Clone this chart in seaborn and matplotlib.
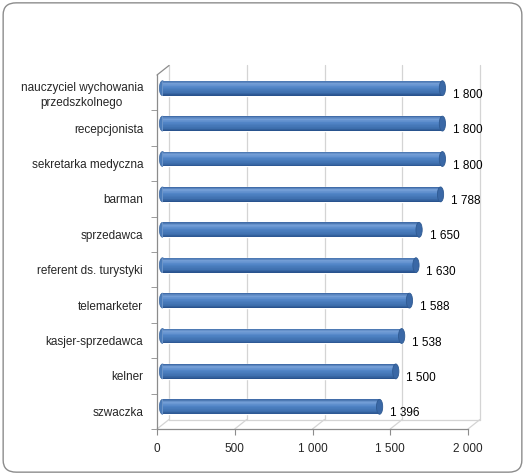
import numpy as np
import pandas as pd
import seaborn as sns
import matplotlib.pyplot as plt
from matplotlib.colors import LinearSegmentedColormap
from matplotlib.patches import Ellipse, FancyBboxPatch
from matplotlib.transforms import ScaledTranslation

# data
jobs = ['nauczyciel wychowania\nprzedszkolnego', 'recepcjonista', 'sekretarka medyczna',
        'barman', 'sprzedawca', 'referent ds. turystyki', 'telemarketer',
        'kasjer-sprzedawca', 'kelner', 'szwaczka']
salary = [1800, 1800, 1800, 1788, 1650, 1630, 1588, 1538, 1500, 1396]
xticks = [0, 500, 1000, 1500, 2000]


def fmt(v):
    return f'{v:,}'.replace(',', ' ')


sns.set_style('white')
plt.rcParams['font.family'] = ['Liberation Sans', 'DejaVu Sans']

fig = plt.figure(figsize=(5.25, 4.75), dpi=100)
fig.patches.append(FancyBboxPatch((0.006, 0.006), 0.988, 0.988,
                                  boxstyle='round,pad=0,rounding_size=0.025',
                                  transform=fig.transFigure, fill=False,
                                  edgecolor='#8c8c8c', linewidth=1.0))
ax = fig.add_axes([157 / 525, 46 / 475, 311 / 525, 354 / 475])

bar_h = 0.42
df = pd.DataFrame({'job': jobs, 'salary': salary})
sns.barplot(data=df, x='salary', y='job', orient='h', width=bar_h,
            color='#4A7DC0', ax=ax, zorder=3)

# depth offsets (back wall and middle of the bars)
back = ScaledTranslation(0.12, 0.095, fig.dpi_scale_trans)
mid = ScaledTranslation(0.055, 0.045, fig.dpi_scale_trans)

ax.set_xlim(0, 2000)
ax.set_ylim(9.5, -0.5)

# back wall / floor lines
grid_c = '#d4d4d4'
for t in xticks:
    ax.plot([t, t], [9.5, -0.5], color=grid_c, lw=0.9,
            transform=ax.transData + back, clip_on=False, zorder=1)
ax.plot([0, 2000], [9.5, 9.5], color=grid_c, lw=0.9,
        transform=ax.transData + back, clip_on=False, zorder=1)
for t in xticks:
    x0, y0 = ax.transData.transform((t, 9.5))
    x1, y1 = (ax.transData + back).transform((t, 9.5))
    ax.plot([x0, x1], [y0, y1], color=grid_c, lw=0.9, transform=None,
            clip_on=False, zorder=1)
x0, y0 = ax.transData.transform((0, -0.5))
x1, y1 = (ax.transData + back).transform((0, -0.5))
ax.plot([x0, x1], [y0, y1], color='#8c8c8c', lw=0.9, transform=None,
        clip_on=False, zorder=1)

# cylinder look: shift bars to mid depth, shade with thin strips
cyl = LinearSegmentedColormap.from_list(
    'cyl', [(0, '#3c68a4'), (0.2, '#76a0d8'), (0.45, '#5084c6'),
            (0.8, '#3e6fae'), (1, '#27508a')])
for p in ax.patches:
    p.set_transform(ax.transData + mid)

pos = np.arange(len(jobs))
cap_w = 40
n_strips = 24
for i, v in zip(pos, salary):
    ax.add_patch(Ellipse((0, i), cap_w, bar_h, transform=ax.transData + mid,
                         facecolor='#4a7cbb', edgecolor='#3a66a0', lw=0.5, zorder=2.9))
for k in range(n_strips):
    sh = bar_h / n_strips
    yk = pos - bar_h / 2 + (k + 0.5) * sh
    bars = ax.barh(yk, salary, height=sh * 1.05, color=cyl((k + 0.5) / n_strips),
                   linewidth=0, zorder=3.1)
    for b in bars:
        b.set_transform(ax.transData + mid)
for i, v in zip(pos, salary):
    ax.add_patch(Ellipse((v, i), cap_w, bar_h, transform=ax.transData + mid,
                         facecolor='#3a68a6', edgecolor='#2f5a92', lw=0.6, zorder=4))

for i, v in zip(pos, salary):
    ax.annotate(fmt(v), (v, i), xytext=(11.5, -1.5), textcoords='offset points',
                ha='left', va='center', fontsize=8.5, color='black')

ax.set_xlim(0, 2000)
ax.set_ylim(9.5, -0.5)
ax.set_xticks(xticks)
ax.set_xticklabels([fmt(t) for t in xticks], fontsize=8.5)
ax.set_yticks(pos + 0.5, minor=True)
ax.set_yticks(pos)
ax.set_yticklabels(jobs, fontsize=8.5, multialignment='center', linespacing=1.35)
ax.tick_params(axis='y', which='major', length=0, pad=10)
ax.tick_params(axis='y', which='minor', length=4, color='#8c8c8c', left=True)
ax.tick_params(axis='x', length=4, color='#8c8c8c', bottom=True, pad=6)
ax.set_xlabel('')
ax.set_ylabel('')
for s in ['top', 'right']:
    ax.spines[s].set_visible(False)
for s in ['left', 'bottom']:
    ax.spines[s].set_color('#8c8c8c')
    ax.spines[s].set_linewidth(0.9)
ax.patch.set_alpha(0)

fig.savefig('out.png', dpi=100)
